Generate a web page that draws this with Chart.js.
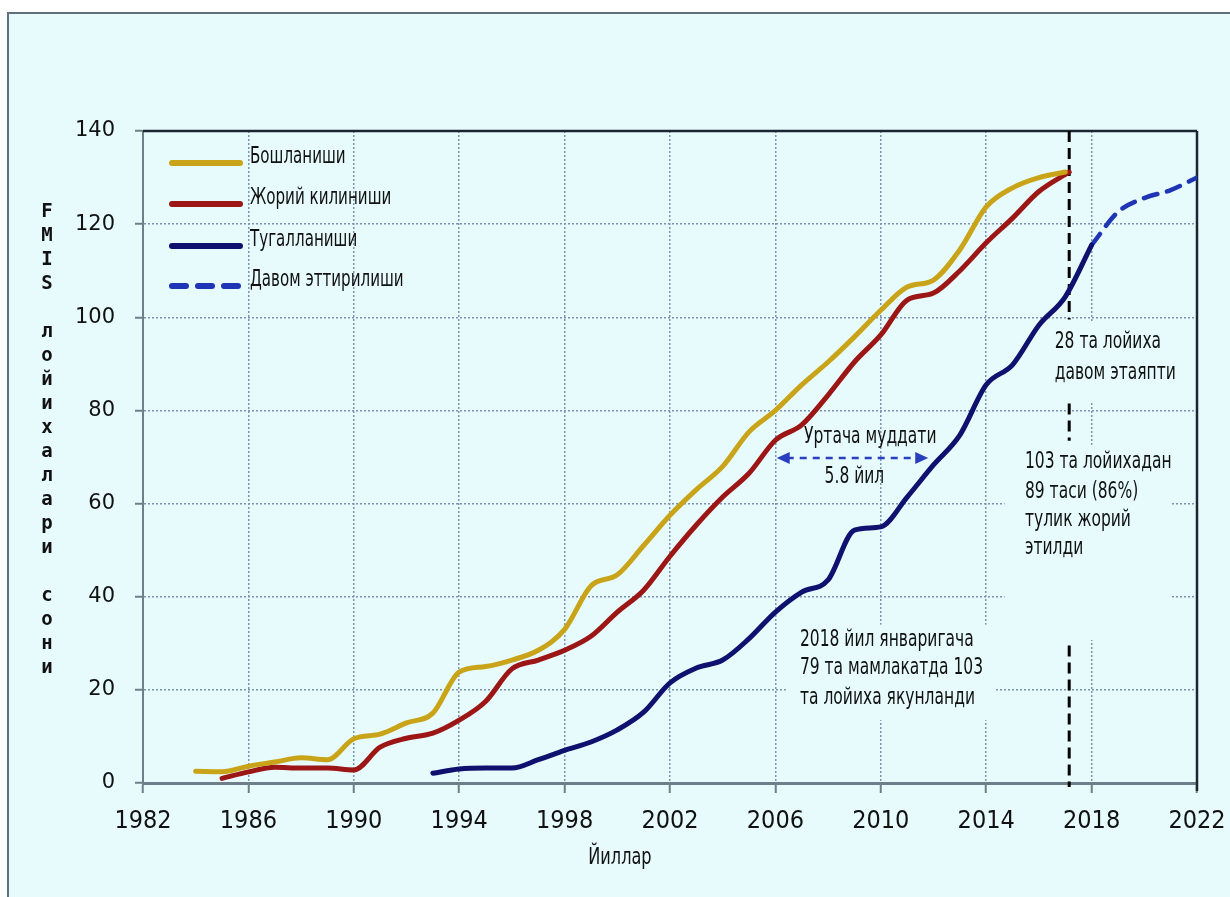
<!DOCTYPE html>
<html>
<head>
<meta charset="utf-8">
<script src="https://cdn.jsdelivr.net/npm/chart.js@4"></script>
<style>
  html, body { margin: 0; padding: 0; background: #fff; }
  canvas { display: block; }
</style>
</head>
<body>
<canvas id="chartFmis" width="1230" height="897"></canvas>
<script>
// --- ДАННЫЕ ---
const startYears = [1984, 1985, 1986, 1987, 1988, 1989, 1990, 1991, 1992, 1993, 1994, 1995, 1996, 1997, 1998, 1999, 2000,
  2001, 2002, 2003, 2004, 2005, 2006, 2007, 2008, 2009, 2010, 2011, 2012, 2013, 2014, 2015, 2016, 2017];
const startValues = [2.5, 2.4, 3.6, 4.5, 5.4, 5.0, 9.5, 10.5, 12.9, 15.0, 23.8, 25.0, 26.4, 28.5, 33.0, 42.3, 44.7,
  51.0, 57.5, 63.0, 68.0, 75.4, 80.0, 85.5, 90.4, 95.8, 101.5, 106.5, 108.0, 114.5, 123.7, 127.8, 130.0, 131.2];

const activeYears = [1985, 1986, 1987, 1988, 1989, 1990, 1991, 1992, 1993, 1994, 1995, 1996, 1997, 1998, 1999, 2000,
  2001, 2002, 2003, 2004, 2005, 2006, 2007, 2008, 2009, 2010, 2011, 2012, 2013, 2014, 2015, 2016, 2017.15];
const activeValues = [1.0, 2.4, 3.4, 3.2, 3.2, 2.8, 7.7, 9.6, 10.7, 13.5, 17.5, 24.5, 26.4, 28.5, 31.5, 36.7,
  41.4, 48.7, 55.4, 61.4, 66.5, 73.6, 76.9, 83.3, 90.4, 96.2, 103.7, 105.2, 110.0, 116.0, 121.3, 127.0, 131.2];

const doneYears = [1993, 1994, 1995, 1996, 1997, 1998, 1999, 2000, 2001, 2002, 2003, 2004, 2005, 2006, 2007, 2008,
  2009, 2010, 2011, 2012, 2013, 2014, 2015, 2016, 2017, 2018];
const doneValues = [2.1, 3.0, 3.2, 3.2, 5.0, 7.0, 8.8, 11.4, 15.2, 21.5, 24.7, 26.4, 31.0, 36.7, 41.0, 43.6,
  54.3, 55.0, 61.4, 68.3, 74.7, 85.5, 89.8, 98.3, 104.4, 115.5];

const forecastYears = [2018, 2019, 2020, 2021, 2022];
const forecastValues = [115.5, 122.6, 125.6, 127.3, 130.0];

const seriesLabels = ["Бошланиши", "Жорий килиниши", "Тугалланиши", "Давом эттирилиши"];
const seriesColors = ["#c9a418", "#9c1616", "#10106e", "#1f35b5"];

const xTicks = [1982, 1986, 1990, 1994, 1998, 2002, 2006, 2010, 2014, 2018, 2022];
const yTicks = [0, 20, 40, 60, 80, 100, 120, 140];

const yTitle = "FMIS лойихалари сони";
const xTitle = "Йиллар";
const cutoffYear = 2017.15;

const NARROW = "'Liberation Sans Narrow', 'DejaVu Sans Condensed', 'Arial Narrow', sans-serif";
const BG = "#e7fbfd";

function pts(xs, ys) {
  return xs.map((x, i) => ({ x: x, y: ys[i] }));
}

// узкий текст: сжимаем по горизонтали
function narrowText(ctx, text, x, y, align, size, squeeze) {
  ctx.save();
  ctx.font = size + "px " + NARROW;
  ctx.textAlign = align;
  ctx.textBaseline = "middle";
  ctx.translate(x, y);
  ctx.scale(squeeze, 1);
  ctx.fillText(text, 0, 0);
  ctx.restore();
}

// --- ПЛАГИН: фон, рамка, легенда, подписи ---
const decorPlugin = {
  id: "decor",
  beforeDraw(chart) {
    const ctx = chart.ctx;
    ctx.save();
    ctx.fillStyle = "#ffffff";
    ctx.fillRect(0, 0, chart.width, chart.height);
    ctx.fillStyle = BG;
    ctx.fillRect(8, 13, chart.width - 8, chart.height - 13);
    ctx.strokeStyle = "#5f6f7c";
    ctx.lineWidth = 2;
    ctx.beginPath();
    ctx.moveTo(8, chart.height);
    ctx.lineTo(8, 13);
    ctx.lineTo(chart.width, 13);
    ctx.stroke();
    ctx.restore();
  },
  beforeDatasetsDraw(chart) {
    const ctx = chart.ctx;
    const xs = chart.scales.x, ys = chart.scales.y;
    const X = v => xs.getPixelForValue(v), Y = v => ys.getPixelForValue(v);
    ctx.save();
    // фон под текстовыми блоками (скрывает сетку)
    ctx.fillStyle = BG;
    [[2016.4, 2021.9, 99, 82], [2014.7, 2021.05, 72.6, 30.7], [2006.4, 2014.3, 34, 13.5]].forEach(b => {
      ctx.fillRect(X(b[0]), Y(b[2]), X(b[1]) - X(b[0]), Y(b[3]) - Y(b[2]));
    });
    // рамка сверху и справа
    const a = chart.chartArea;
    ctx.strokeStyle = "#1c2633";
    ctx.lineWidth = 2.5;
    ctx.beginPath();
    ctx.moveTo(a.left, a.top);
    ctx.lineTo(a.right, a.top);
    ctx.moveTo(a.right, a.top);
    ctx.lineTo(a.right, a.bottom + 8);
    ctx.stroke();
    // вертикальная пунктирная линия
    ctx.strokeStyle = "#000";
    ctx.lineWidth = 3;
    ctx.setLineDash([11, 6]);
    [[140, 99.5], [81.5, 73.5], [29.5, 0]].forEach(s => {
      ctx.beginPath();
      ctx.moveTo(X(cutoffYear), Y(s[0]));
      ctx.lineTo(X(cutoffYear), Y(s[1]) + (s[1] === 0 ? 4 : 0));
      ctx.stroke();
    });
    ctx.restore();
  },
  afterDatasetsDraw(chart) {
    const ctx = chart.ctx;
    const xs = chart.scales.x, ys = chart.scales.y;
    const X = v => xs.getPixelForValue(v), Y = v => ys.getPixelForValue(v);
    ctx.save();

    // легенда
    const legendY = [160, 201, 243, 283];
    seriesLabels.forEach((lab, i) => {
      ctx.strokeStyle = seriesColors[i];
      ctx.lineWidth = 6;
      ctx.lineCap = "round";
      ctx.setLineDash(i === 3 ? [14, 12] : []);
      ctx.beginPath();
      ctx.moveTo(172, legendY[i] + 3);
      ctx.lineTo(240, legendY[i] + 3);
      ctx.stroke();
      ctx.setLineDash([]);
      ctx.fillStyle = "#111";
      narrowText(ctx, lab, 250, legendY[i] - 3, "left", 23, 0.73);
    });
    ctx.lineCap = "butt";

    // стрелка "Уртача муддати"
    const ay = Y(69.8), ax1 = X(2006.05), ax2 = X(2011.8);
    ctx.strokeStyle = "#2a3fc0";
    ctx.fillStyle = "#2a3fc0";
    ctx.lineWidth = 2.5;
    ctx.setLineDash([7, 6]);
    ctx.beginPath();
    ctx.moveTo(ax1 + 10, ay);
    ctx.lineTo(ax2 - 10, ay);
    ctx.stroke();
    ctx.setLineDash([]);
    ctx.beginPath();
    ctx.moveTo(ax1, ay); ctx.lineTo(ax1 + 13, ay - 6); ctx.lineTo(ax1 + 13, ay + 6); ctx.closePath();
    ctx.moveTo(ax2, ay); ctx.lineTo(ax2 - 13, ay - 6); ctx.lineTo(ax2 - 13, ay + 6); ctx.closePath();
    ctx.fill();

    ctx.fillStyle = "#111";
    narrowText(ctx, "Уртача муддати", X(2009.6), Y(74.3), "center", 23, 0.75);
    narrowText(ctx, "5.8 йил", X(2009.0), Y(65.7), "center", 23, 0.75);

    [["28 та лойиха", 94.7], ["давом этаяпти", 88]]
      .forEach(t => narrowText(ctx, t[0], X(2016.6), Y(t[1]), "left", 23, 0.75));
    [["103 та лойихадан", 68.9], ["89 таси (86%)", 62.5], ["тулик жорий", 56.5], ["этилди", 50.5]]
      .forEach(t => narrowText(ctx, t[0], X(2015.47), Y(t[1]), "left", 23, 0.75));
    [["2018 йил январигача", 30.7], ["79 та мамлакатда 103", 24.6], ["та лойиха якунланди", 18.2]]
      .forEach(t => narrowText(ctx, t[0], X(2006.93), Y(t[1]), "left", 23, 0.75));

    // подписи осей
    narrowText(ctx, xTitle, X(2000.1), 858, "center", 23, 0.78);
    ctx.font = "bold 19px 'DejaVu Sans Mono', monospace";
    ctx.textAlign = "center";
    ctx.textBaseline = "middle";
    yTitle.split("").forEach((c, i) => {
      if (c !== " ") ctx.fillText(c, 47, 212 + i * 24);
    });
    ctx.restore();
  }
};

const ctxFmis = document.getElementById("chartFmis");
new Chart(ctxFmis, {
  type: "line",
  data: {
    datasets: [
      { label: seriesLabels[0], data: pts(startYears, startValues), borderColor: seriesColors[0] },
      { label: seriesLabels[1], data: pts(activeYears, activeValues), borderColor: seriesColors[1] },
      { label: seriesLabels[2], data: pts(doneYears, doneValues), borderColor: seriesColors[2] },
      { label: seriesLabels[3], data: pts(forecastYears, forecastValues), borderColor: seriesColors[3],
        borderDash: [14, 10], borderWidth: 4.5 },
    ],
  },
  options: {
    responsive: false,
    animation: false,
    devicePixelRatio: 1,
    layout: { padding: { left: 0, top: 131, right: 33, bottom: 0 } },
    elements: {
      line: { borderWidth: 5, cubicInterpolationMode: "monotone", borderCapStyle: "round", fill: false },
      point: { radius: 0, hoverRadius: 0 },
    },
    plugins: { legend: { display: false }, tooltip: { enabled: false } },
    scales: {
      x: {
        type: "linear",
        min: 1982,
        max: 2022,
        afterFit: s => { s.height = 114; s.paddingLeft = 0; s.paddingRight = 0; },
        afterBuildTicks: s => { s.ticks = xTicks.map(v => ({ value: v })); },
        ticks: {
          color: "#111",
          font: { family: NARROW, size: 25 },
          padding: 13,
          maxRotation: 0,
          autoSkip: false,
          callback: v => String(v),
        },
        grid: { color: "#7d93b3", lineWidth: 1.5, tickLength: 10, tickColor: "#6f7f8a", tickWidth: 2 },
        border: { color: "#6f7f8a", width: 3, dash: [2, 2] },
      },
      y: {
        min: 0,
        max: 140,
        afterFit: s => { s.width = 143; s.paddingTop = 0; s.paddingBottom = 0; },
        afterBuildTicks: s => { s.ticks = yTicks.map(v => ({ value: v })); },
        ticks: {
          color: "#111",
          font: { family: "'DejaVu Sans', sans-serif", size: 21 },
          padding: 20,
        },
        grid: { color: "#7d93b3", lineWidth: 1.5, tickLength: 8, tickColor: "#6f7f8a", tickWidth: 2 },
        border: { color: "#6f7f8a", width: 2, dash: [2, 2] },
      },
    },
  },
  plugins: [decorPlugin],
});
</script>
</body>
</html>
